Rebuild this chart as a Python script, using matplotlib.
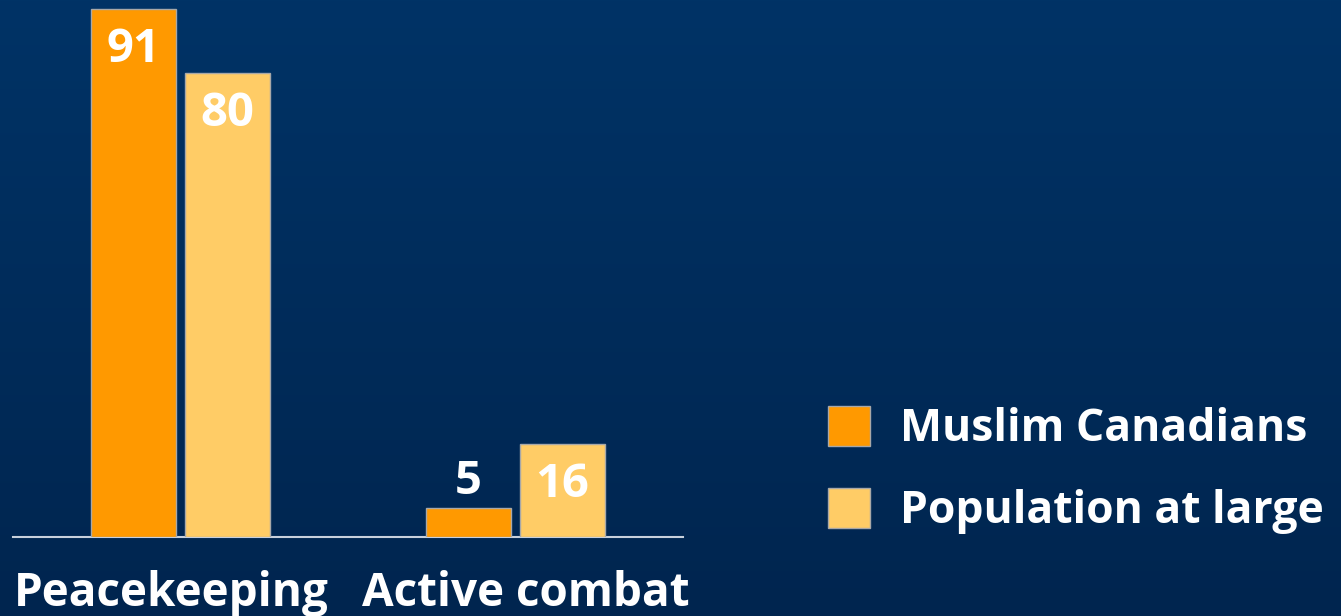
import numpy as np
import matplotlib
matplotlib.use("Agg")
import matplotlib.pyplot as plt
import matplotlib.transforms as mtransforms
from matplotlib.colors import LinearSegmentedColormap
from matplotlib.patches import Patch

plt.rcParams['font.family'] = ['Open Sans', 'DejaVu Sans']
plt.rcParams['font.weight'] = 'bold'

categories = ["Peacekeeping", "Active combat"]
series_names = ["Muslim Canadians", "Population at large"]
muslim = [91, 5]
population = [80, 16]
colors = ["#FF9900", "#FFCC66"]

fig = plt.figure(figsize=(13.41, 6.16), dpi=100)

# gradient background
bg = fig.add_axes([0, 0, 1, 1], zorder=-10)
cmap = LinearSegmentedColormap.from_list("bg", ["#003366", "#00254F"])
bg.imshow(np.linspace(0, 1, 256).reshape(-1, 1), aspect='auto', cmap=cmap,
          extent=[0, 1, 0, 1], origin='upper')
bg.set_axis_off()

W, H = 1341, 616
ax = fig.add_axes([13 / W, (H - 537) / H, 670 / W, 533.6 / H])
ax.patch.set_alpha(0)

x = np.arange(len(categories))
bw = 0.253
gap = 0.027
offsets = [-(bw + gap) / 2, (bw + gap) / 2]
for vals, off, col in zip([muslim, population], offsets, colors):
    bars = ax.bar(x + off, vals, width=bw, color=col, edgecolor="#a8a8a8",
                  linewidth=1.0, zorder=3)
    for xi, v in zip(x + off, vals):
        if v >= 10:
            dy = -53
        else:
            dy = 14
        ax.annotate(str(v), (xi, v), xytext=(0, dy), textcoords='offset pixels',
                    ha='center', va='baseline', color='white', fontsize=34,
                    fontweight='bold', zorder=5)

ax.set_xlim(-0.5, 1.5)
ax.set_ylim(0, 92)
for s in ['top', 'right', 'left']:
    ax.spines[s].set_visible(False)
ax.spines['bottom'].set_color('#c8d0dc')
ax.spines['bottom'].set_linewidth(1.5)
ax.set_yticks([])
ax.set_xticks(x)
ax.set_xticklabels(categories, fontsize=33, color='white', fontweight='bold')
ax.tick_params(axis='x', length=0, pad=24)
for lbl, dx in zip(ax.get_xticklabels(), [-9, 10]):
    lbl.set_transform(lbl.get_transform() +
                      mtransforms.ScaledTranslation(dx / 100, 0, fig.dpi_scale_trans))

handles = [Patch(facecolor=c, edgecolor="#a8a8a8", linewidth=1.0) for c in colors]
fig.legend(handles, series_names, loc='center left',
           bbox_to_anchor=(828 / W, 1 - 470 / H), frameon=False,
           fontsize=32, labelcolor='white', handlelength=0.95, handleheight=1.0,
           handletextpad=0.68, labelspacing=0.8, borderpad=0, borderaxespad=0,
           prop={'weight': 'bold', 'size': 32})

fig.savefig("out.png", dpi=100, facecolor='#002d5c')
